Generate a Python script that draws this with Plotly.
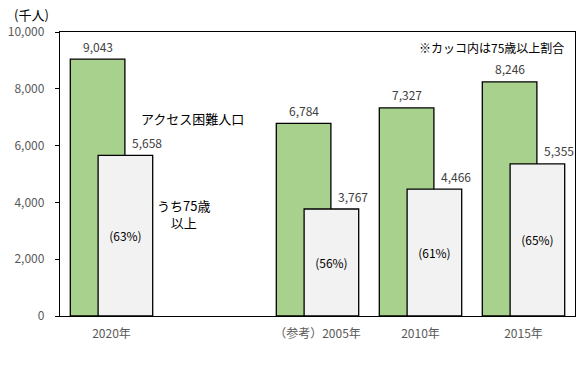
import plotly.graph_objects as go

categories = ["2020年", " ", "（参考）2005年", "2010年", "2015年"]
bar_categories = ["2020年", "（参考）2005年", "2010年", "2015年"]
access_difficult = [9043, 6784, 7327, 8246]
age75_plus = [5658, 3767, 4466, 5355]
age75_share = ["(63%)", "(56%)", "(61%)", "(65%)"]
y_ticks = [0, 2000, 4000, 6000, 8000, 10000]

FONT = "Noto Sans CJK JP, Noto Sans, sans-serif"
LABEL_COLOR = "#404040"

fig = go.Figure()

fig.add_trace(go.Bar(
    x=bar_categories, y=access_difficult,
    name="アクセス困難人口",
    marker=dict(color="#A9D18E", line=dict(color="#000000", width=1.3)),
    offset=-0.4, width=0.53,
    hoverinfo="skip",
))

fig.add_trace(go.Bar(
    x=bar_categories, y=age75_plus,
    name="うち75歳以上",
    marker=dict(color="#F2F2F2", line=dict(color="#000000", width=1.3)),
    offset=-0.13, width=0.53,
    text=age75_share,
    textposition="inside", insidetextanchor="middle",
    textfont=dict(family=FONT, size=12, color="#000000"),
    hoverinfo="skip",
))

lab_font = dict(family=FONT, size=12, color=LABEL_COLOR)
for cat, v in zip(bar_categories, access_difficult):
    fig.add_annotation(x=cat, y=v, text=f"{v:,}", showarrow=False,
                       xshift=-14, yshift=13, xanchor="center", yanchor="middle",
                       font=lab_font)
for cat, v in zip(bar_categories, age75_plus):
    fig.add_annotation(x=cat, y=v, text=f"{v:,}", showarrow=False,
                       xshift=35, yshift=13, xanchor="center", yanchor="middle",
                       font=lab_font)

ann_font = dict(family=FONT, size=13, color="#000000")


def paper_note(text, px, py, font, **kw):
    fig.add_annotation(text=text, xref="paper", yref="paper",
                       x=(px - 60) / 515, y=(316 - py) / 284,
                       xanchor="center", yanchor="middle",
                       showarrow=False, font=font, **kw)


paper_note("アクセス困難人口", 192, 118, ann_font)
paper_note("うち75歳<br>以上", 183, 214, ann_font, align="center")
paper_note("※カッコ内は75歳以上割合", 491, 47, dict(family=FONT, size=12, color="#000000"))
paper_note("(千人)", 31, 15, ann_font)

fig.update_layout(
    width=579, height=369,
    margin=dict(l=60, r=4, t=32, b=53, autoexpand=False),
    barmode="overlay",
    showlegend=False,
    plot_bgcolor="#FFFFFF", paper_bgcolor="#FFFFFF",
    font=dict(family=FONT, size=12, color="#595959"),
    xaxis=dict(
        type="category", categoryorder="array", categoryarray=categories,
        range=[-0.5, 4.5], automargin=False,
        showline=True, linecolor="#000000", linewidth=1.3, mirror=True,
        ticks="", showgrid=False,
        tickfont=dict(family=FONT, size=12, color="#595959"),
        ticklabelstandoff=6,
    ),
    yaxis=dict(
        range=[0, 10000], tickvals=y_ticks, automargin=False,
        tickformat=",d",
        showline=True, linecolor="#000000", linewidth=1.3, mirror=True,
        ticks="outside", ticklen=4, tickcolor="#000000",
        showgrid=False, zeroline=False,
        tickfont=dict(family=FONT, size=12, color="#595959"),
        ticklabelstandoff=8,
    ),
)

fig.write_html(
    "out.html",
    config={"displayModeBar": False},
    post_script="document.body.style.margin='0';document.body.style.overflow='hidden';",
)
